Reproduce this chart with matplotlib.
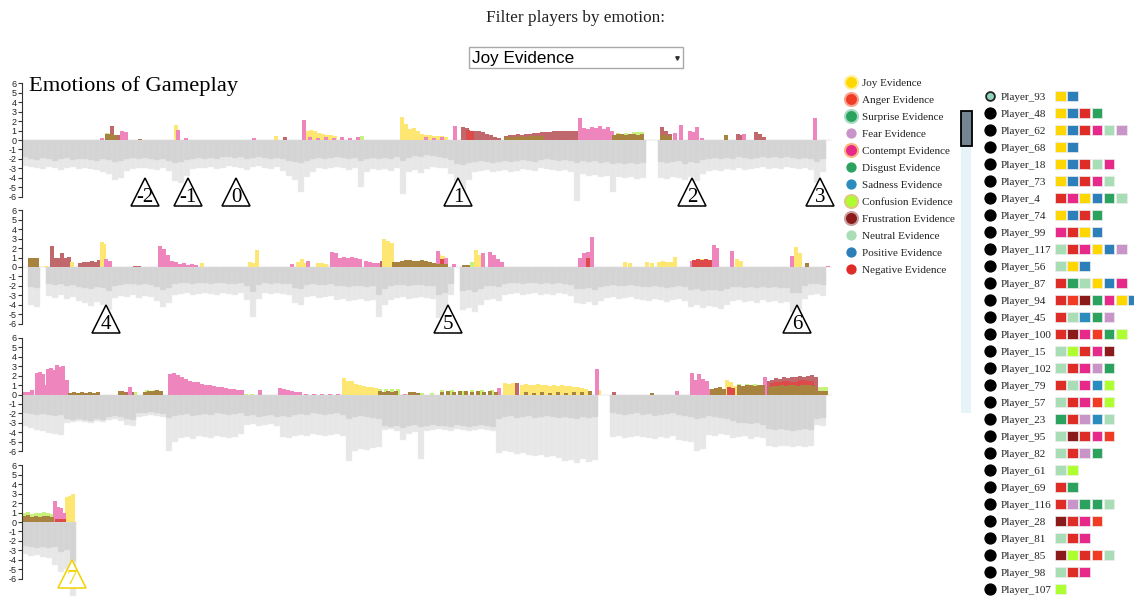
import matplotlib.pyplot as plt
from matplotlib.patches import Rectangle
import numpy as np

plt.rcParams['axes.unicode_minus'] = False

W, H = 1134, 598
SERIF = 'Liberation Serif'
SANS = 'Liberation Sans'

# emotion colours used by the legend and the player squares
EMO = {
    'joy': '#ffd700', 'anger': '#f03c24', 'surprise': '#2ca25f', 'fear': '#c994c7',
    'contempt': '#e7298a', 'disgust': '#2ca25f', 'sadness': '#2b8cbe',
    'confusion': '#adff2f', 'frustration': '#8b1a1a', 'neutral': '#a8ddb5',
    'pos': '#2c7fb8', 'neg': '#de2d26',
}
HALO = {'joy': '#fff0a0', 'anger': '#f7a390', 'surprise': '#a9dcc4',
        'contempt': '#fdb57c', 'confusion': '#e0c880', 'frustration': '#c9a0a0'}

# strip bar colours (blended evidence)
BAR = dict(lime='#c8f07c', maroon='#c0686c', yellow='#fde672', pink='#ee85bd',
           red='#dd4a4a', olive='#a8823f')

# ---------------- negative evidence, bins of 6 time units from t=22
BIN, T0 = 6, 22

r1_light = [-2.7, -2.9, -3.0, -3.1, -2.9, -3.0, -3.2, -3.0, -2.9, -3.1,
            -3.0, -3.1, -3.2, -3.4, -3.6, -4.2, -4.0, -3.3, -3.1, -3.0,
            -3.0, -3.1, -3.2, -3.0, -3.3, -4.3, -4.5, -3.8, -3.1, -3.0,
            -3.0, -2.9, -3.1, -3.0, -2.8, -2.9, -3.0, -3.2, -2.9, -2.8,
            -3.0, -3.1, -2.9, -3.3, -3.8, -4.2, -5.5, -3.9, -3.4, -3.0,
            -3.1, -3.0, -2.9, -3.0, -3.2, -3.0, -5.0, -3.4, -3.1, -3.2,
            -3.1, -3.3, -3.0, -5.7, -3.4, -3.2, -3.5, -3.1, -2.9, -3.0,
            -3.0, -3.6, -4.8, -5.7, -4.2, -3.4, -3.3, -3.2, -3.4, -3.3,
            -3.2, -3.4, -3.3, -3.1, -3.2, -3.3, -3.0, -3.1, -3.2, -3.3,
            -3.2, -3.4, -6.5, -3.6, -3.8, -3.7, -3.9, -3.8, -5.5, -3.9,
            -4.0, -3.9, -4.1, -4.0, 0, 0, -4.0,
            -4.1, -3.9, -4.0, -4.2, -3.9, -4.3, -3.6, -3.3, -3.2, -3.3,
            -3.1, -3.2, -3.0, -3.2, -3.1, -3.0, -2.9, -3.1, -3.0, -3.1,
            -2.9, -3.0, -3.1, -3.0, -3.2, -4.5, -3.4, 0]
r1_dark = [-1.8, -2.0, -2.1, -1.9, -2.0, -2.2, -2.0, -1.9, -2.1, -2.0,
           -2.0, -2.1, -2.2, -2.0, -2.1, -2.3, -2.2, -2.0, -1.9, -2.0,
           -1.9, -2.0, -2.1, -2.0, -2.2, -2.4, -2.3, -2.1, -2.0, -1.9,
           -2.0, -1.9, -2.0, -1.8, -1.8, -1.9, -1.8, -2.0, -1.9, -1.8,
           -1.9, -2.0, -1.9, -2.0, -2.2, -2.3, -2.4, -2.2, -2.0, -1.9,
           -2.0, -1.9, -1.8, -1.9, -2.0, -1.9, -2.2, -2.0, -1.9, -2.0,
           -1.9, -2.0, -1.8, -2.2, -1.9, -1.7, -1.8, -1.6, -1.7, -1.8,
           -1.9, -2.1, -2.5, -2.6, -2.4, -2.3, -2.2, -2.3, -2.4, -2.3,
           -2.2, -2.3, -2.2, -2.1, -2.2, -2.3, -2.1, -2.0, -2.1, -2.2,
           -2.1, -2.2, -2.4, -2.2, -2.3, -2.2, -2.4, -2.3, -2.5, -2.4,
           -2.5, -2.4, -2.5, -2.4, 0, 0, -2.3,
           -2.4, -2.3, -2.2, -2.5, -2.3, -2.4, -2.1, -2.0, -1.9, -2.0,
           -1.9, -2.0, -1.8, -1.9, -2.0, -1.9, -1.8, -1.9, -1.8, -1.9,
           -1.8, -1.9, -2.0, -1.9, -2.0, -2.3, -2.0, 0]

r2_light = [0, -4.0, -4.2, 0, -3.1, -3.3, -3.0, -3.4, -3.2, -3.6,
            -3.8, -4.1, -3.7, -4.0, -4.6, -3.3, -3.1, -3.2, -3.0, -3.3,
            -3.1, -3.2, -3.6, -4.2, -3.8, -3.0, -2.9, -2.8, -3.0, -2.9,
            -2.8, -2.9, -3.0, -2.8, -2.9, -3.0, -2.8, -3.5, -5.3, -3.4,
            -2.8, -2.9, -2.8, -2.9, -3.0, -3.8, -4.0, -3.2, -3.1, -3.3,
            -3.2, -3.1, -3.5, -3.4, -3.6, -3.5, -3.4, -3.6, -3.5, -5.3,
            -4.0, -3.5, -3.3, -3.2, -3.4, -3.3, -3.2, -3.3, -3.4, -5.4,
            -5.2, -3.0, 0, -4.5, -4.3, -4.8, -4.0, -3.5, -3.4, -3.6,
            -3.0, -2.9, -2.8, -3.0, -2.9, -2.8, -3.0, -2.9, -3.0, -2.8,
            -2.9, -3.1, -3.8, -3.9, -3.7, -4.0, -3.6, -3.3, -3.2, -3.4,
            -3.3, -3.2, -3.4, -3.5, -3.6, -3.4, -3.5, -3.7, -3.5, -3.4,
            -3.6, -4.2, -4.0, -4.3, -4.1, -4.2, -4.4, -4.0, -3.6, -3.5,
            -3.7, -3.6, -3.8, -3.5, -3.7, -3.6, -3.8, -3.7, -4.8, -4.6,
            -3.4, -3.0, -2.9, -3.1, 0]
r2_dark = [0, -2.1, -2.2, 0, -1.8, -1.9, -1.8, -2.0, -1.9, -2.1,
           -2.2, -2.3, -2.1, -2.2, -2.5, -2.0, -1.9, -1.8, -1.8, -1.9,
           -1.8, -1.9, -2.1, -2.4, -2.2, -1.8, -1.7, -1.7, -1.8, -1.7,
           -1.7, -1.8, -1.7, -1.7, -1.8, -1.8, -1.7, -2.0, -2.6, -1.9,
           -1.7, -1.8, -1.7, -1.8, -1.8, -2.2, -2.3, -1.9, -1.8, -1.9,
           -1.9, -1.8, -2.0, -2.0, -2.1, -2.0, -2.0, -2.1, -2.0, -3.0,
           -2.3, -2.0, -1.9, -1.9, -2.0, -1.9, -1.9, -2.0, -2.0, -3.0,
           -2.8, -1.8, 0, -2.5, -2.4, -2.6, -2.3, -2.0, -2.0, -2.1,
           -1.8, -1.7, -1.7, -1.8, -1.7, -1.7, -1.8, -1.7, -1.8, -1.7,
           -1.8, -1.9, -2.3, -2.3, -2.2, -2.4, -2.1, -2.0, -1.9, -2.0,
           -2.0, -1.9, -2.0, -2.1, -2.1, -2.0, -2.1, -2.2, -2.1, -2.0,
           -2.1, -2.4, -2.3, -2.5, -2.4, -2.4, -2.5, -2.3, -2.1, -2.1,
           -2.2, -2.1, -2.2, -2.1, -2.2, -2.1, -2.2, -2.2, -2.8, -2.7,
           -2.0, -1.8, -1.8, -1.9, 0]

r3_light = [-3.3, -3.5, -3.8, -3.9, -4.1, -4.2, -4.3, -3.0, -2.9, -2.8,
            -2.9, -3.0, -2.8, -2.9, -2.7, -2.6, -2.8, -3.2, -3.3, -2.4,
            -2.3, -2.2, -2.3, -2.4, -6.0, -5.0, -4.6, -4.5, -4.7, -4.4,
            -4.5, -4.6, -4.4, -4.5, -4.6, -4.5, -4.2, -3.2, -3.1, -3.3,
            -3.2, -3.1, -3.3, -4.5, -4.6, -4.4, -4.3, -4.4, -4.2, -4.3,
            -4.4, -4.3, -4.2, -4.4, -7.0, -6.0, -5.8, -5.9, -5.7, -5.6,
            -3.8, -3.7, -3.9, -4.8, -4.2, -4.0, -6.8, -3.9, -3.8, -3.7,
            -3.8, -3.9, -3.7, -3.8, -3.9, -3.8, -3.7, -3.8, -3.9, -6.2,
            -6.0, -6.1, -6.3, -6.2, -6.4, -6.5, -6.4, -6.6, -6.5, -6.7,
            -7.0, -6.9, -7.2, -6.8, -7.1, -6.9, 0, 0, -4.5, -4.4,
            -4.6, -4.5, -4.4, -4.5, -4.6, -4.7, -4.5, -4.6, -4.4, -4.8,
            -4.9, -5.0, -6.0, -5.8, -4.3, -4.4, -4.2, -4.3, -4.6, -4.5,
            -4.4, -4.7, -4.5, -4.6, -5.5, -5.6, -5.5, -5.4, -5.6, -5.5,
            -5.6, -5.4, -3.2, -3.3, 0]
r3_dark = [-2.0, -2.1, -2.2, -2.1, -2.2, -2.3, -2.2, -2.6, -2.7, -2.6,
           -2.7, -2.8, -2.6, -2.7, -2.4, -2.3, -2.4, -2.6, -2.7, -2.0,
           -2.0, -1.9, -2.0, -2.1, -2.5, -2.3, -2.2, -2.1, -2.3, -2.2,
           -2.1, -2.2, -2.0, -2.1, -2.2, -2.1, -2.0, -2.3, -2.2, -2.4,
           -2.3, -2.2, -2.4, -2.3, -2.4, -2.2, -2.1, -2.2, -2.0, -2.1,
           -2.2, -2.1, -2.0, -2.2, -2.6, -2.4, -2.3, -2.4, -2.5, -2.6,
           -3.3, -3.4, -3.3, -3.5, -3.3, -3.2, -3.4, -3.3, -3.2, -3.3,
           -3.3, -3.4, -3.2, -3.3, -3.4, -3.3, -3.2, -3.3, -3.4, -2.6,
           -2.4, -2.3, -2.5, -2.4, -2.3, -2.5, -2.4, -2.3, -2.4, -2.5,
           -2.4, -2.5, -2.6, -2.4, -2.5, -2.4, 0, 0, -2.0, -2.1,
           -2.2, -2.1, -2.0, -2.2, -2.1, -2.3, -2.2, -2.1, -2.0, -2.2,
           -2.3, -2.4, -2.6, -2.5, -2.3, -2.4, -2.5, -2.6, -2.8, -3.0,
           -3.0, -3.1, -3.0, -3.2, -3.7, -3.8, -3.7, -3.8, -3.9, -3.8,
           -3.7, -3.8, -2.6, -2.5, 0]

r4_light = [-3.4, -3.6, -3.5, -3.7, -3.8, -4.5, -5.3, -5.0, -7.8]
r4_dark = [-2.5, -2.6, -2.7, -2.6, -2.8, -2.6, -3.2, -3.0, -4.1]

# ---------------- positive evidence, (time, value)
r1_lime = [(105, .7), (360, .4), (616, .7), (624, .7), (632, .8), (636, .8), (640, .8)]
r1_maroon = [(110, 1.5), (116, .5), (283, .3), (461, 1.4), (465, 1.3), (469, .9), (473, 1.0),
             (477, 1.0), (481, .8), (485, .6), (489, .5), (493, .3), (497, .2), (504, .4),
             (508, .5), (512, .5), (516, .6), (520, .5), (524, .6), (528, .6), (532, .7),
             (536, .7), (540, .8), (544, .8), (548, .8), (552, .9), (556, .9), (560, .9),
             (564, 1.0), (568, .9), (572, 1.0), (576, .9), (660, 1.4), (664, 1.0), (668, .6),
             (736, .6), (740, .5), (754, .8), (758, .6), (762, .3)]
r1_yellow = [(174, 1.6), (274, .4), (305, 1.0), (309, 1.1), (313, .9), (317, .7), (321, .6),
             (325, .5), (329, .5), (333, .4), (400, 2.4), (404, 1.7), (408, 1.2), (412, 1.3),
             (416, 1.0), (420, .6), (424, .5), (428, .5), (432, .4), (436, .4), (440, .4),
             (444, .3)]
r1_pink = [(100, .2), (120, .9), (124, .8), (176, 1.1), (184, .2), (252, .2), (302, 2.1),
           (308, .3), (316, .2), (324, .3), (332, .2), (340, .3), (348, .2), (356, .3),
           (424, .3), (432, .2), (440, .3), (453, 1.5), (578, 2.3), (582, 1.3), (586, 1.2),
           (590, 1.4), (594, 1.3), (598, 1.5), (602, 1.2), (606, 1.4), (610, 1.0), (673, .7),
           (679, 1.6), (688, .9), (692, .8), (695, 1.4), (700, .2), (742, .6), (813, 2.3)]
r1_red = [(466, 1.1), (470, .9)]
r1_olive = [(105, .6), (109, .6), (113, .5), (138, .1), (504, .3), (508, .3), (512, .3),
            (516, .3), (520, .4), (524, .3), (528, .4), (532, .4), (536, .4), (540, .4),
            (612, .5), (616, .6), (620, .6), (624, .5), (628, .6), (632, .6), (636, .5),
            (640, .6), (660, .5), (664, .5), (668, .4), (724, .5)]

r2_lime = [(470, .5)]
r2_maroon = [(50, 2.2), (54, .9), (57, 1.0), (60, 1.5), (64, .9), (67, 1.1), (78, .4),
             (82, .5), (86, .5), (90, .6), (94, .5), (97, .7), (133, .1), (137, .1), (380, .6)]
r2_yellow = [(44, .1), (70, .5), (100, 2.6), (102, 2.4), (200, .4), (248, .5), (252, .4),
             (255, 1.8), (296, .5), (300, .8), (304, .4), (316, .4), (320, .4), (324, .3),
             (382, 3.0), (386, 2.8), (390, 2.5), (437, 1.4), (441, 1.2), (474, 1.8),
             (477, 1.3), (623, .5), (628, .4), (645, .5), (650, .4), (657, .5), (661, .6),
             (665, .5), (669, .5), (673, 1.1), (700, .8), (704, .7), (708, .6), (735, .8),
             (739, .6), (794, 2.1), (798, 1.5)]
r2_pink = [(104, .8), (108, .6), (158, 2.2), (162, 1.9), (166, 1.3), (170, .6), (174, .5),
           (178, .3), (182, .4), (186, .2), (190, .3), (194, .2), (290, .3), (306, .6),
           (330, 1.6), (334, 1.5), (338, 1.0), (342, 1.1), (346, 1.0), (350, 1.1), (354, .9),
           (358, .8), (364, .6), (368, .5), (372, .4), (376, .4), (436, 1.7), (444, 1.0),
           (452, .3), (481, 1.5), (488, 1.6), (492, 1.3), (496, .8), (500, .5), (578, 1.0),
           (582, 1.5), (586, 1.6), (590, 3.2), (690, .6), (712, 2.3), (715, 2.0), (730, 1.7),
           (790, 1.2), (826, .1)]
r2_red = [(440, .8), (586, 1.0), (692, .7), (696, .8), (700, .7), (704, .8), (708, .7)]
r2_olive = [(28, 1.0), (32, .9), (35, 1.0), (392, .5), (396, .5), (400, .6), (404, .7),
            (408, .7), (412, .6), (416, .6), (420, .7), (424, .6), (428, .5), (432, .4),
            (436, .3), (440, .3), (444, .3), (462, .2), (466, .2), (805, .4)]

r3_lime = [(133, .3), (145, .5), (153, .5), (157, .4), (244, .1), (250, .1), (378, .6),
           (384, .6), (390, .6), (396, .6), (405, .1), (420, .2), (430, .2), (440, .5),
           (450, .5), (460, .4), (470, .5), (480, .5), (490, .5), (737, 1.1), (745, 1.1),
           (753, 1.1), (761, 1.0), (816, .8), (820, .8), (824, .8)]
r3_maroon = [(120, .4), (124, .3), (130, .3), (515, 1.2), (612, .3), (766, 1.4), (770, 1.5),
             (774, 1.7), (778, 1.6), (782, 1.8), (786, 1.7), (790, 1.9), (794, 1.8),
             (798, 2.0), (802, 1.9), (806, 2.0), (810, 2.1), (814, 1.9)]
r3_yellow = [(342, 1.7), (346, 1.4), (350, 1.4), (354, 1.1), (358, 1.0), (362, .9), (366, .8),
             (370, .8), (374, .7), (503, 1.2), (507, 1.1), (511, 1.2), (520, 1.0), (524, 1.1),
             (528, 1.0), (532, 1.0), (536, 1.1), (540, 1.0), (544, 1.0), (548, .9), (552, 1.0),
             (556, .9), (560, 1.0), (564, .9), (568, .9), (572, .8), (576, .8), (580, .7),
             (584, .6), (597, .5), (725, 1.5), (729, 1.3), (733, .9)]
r3_pink = [(22, .3), (26, .3), (30, .5), (35, 2.3), (38, 2.4), (41, 2.2), (43, 1.0), (46, 2.7),
           (49, 2.8), (52, 2.6), (55, 3.1), (58, 2.9), (61, 3.0), (65, 1.5), (128, .8),
           (168, 2.2), (172, 2.3), (176, 2.1), (180, 1.8), (184, 1.6), (188, 1.4), (192, 1.3),
           (196, 1.3), (200, 1.1), (204, 1.0), (208, 1.0), (212, .9), (216, .8), (220, .8),
           (224, .7), (228, .6), (232, .6), (236, .5), (240, .5), (258, .5), (278, .7),
           (282, .6), (286, .5), (290, .4), (294, .3), (298, .3), (304, .1), (312, .1),
           (320, .1), (328, .1), (336, .1), (403, .1), (497, .7), (595, 2.7), (675, .4),
           (690, 2.3), (694, 1.5), (697, 2.2), (701, 1.6), (705, 1.4), (708, .6), (763, 1.8)]
r3_red = [(727, .8), (731, .7), (770, 1.2), (774, 1.3), (778, 1.3), (782, 1.4), (786, 1.4),
          (790, 1.3), (794, 1.3), (798, 1.5), (802, 1.5), (806, 1.4), (810, 1.4)]
r3_olive = [(68, .2), (72, .3), (76, .2), (80, .3), (84, .2), (88, .3), (92, .2), (96, .3),
            (118, .4), (122, .3), (143, .3), (147, .4), (151, .4), (155, .5), (159, .4),
            (378, .4), (382, .3), (386, .4), (390, .3), (394, .4), (408, .3), (412, .3),
            (416, .2), (440, .3), (446, .4), (452, .3), (458, .4), (464, .4), (470, .3),
            (476, .4), (482, .3), (488, .4), (494, .3), (524, .3), (532, .2), (540, .3),
            (548, .2), (556, .3), (564, .2), (572, .3), (580, .3), (588, .4), (650, .2),
            (710, .6), (714, .7), (718, .8), (722, .6), (737, 1.0), (741, .9), (745, 1.0),
            (749, 1.0), (753, .9), (757, 1.0), (761, 1.0), (768, .8), (772, .9), (776, .9),
            (780, 1.0), (784, .9), (788, 1.0), (792, 1.0), (796, .9), (800, 1.0), (804, 1.0),
            (808, 1.0), (812, .9), (816, .4), (820, .4), (824, .4)]

r4_lime = [(22, 1.0), (26, 1.1), (30, .8), (34, 1.0), (38, .9), (42, 1.1), (46, 1.0), (50, .8)]
r4_maroon = []
r4_yellow = [(65, 2.6), (68, 2.8), (71, 3.0)]
r4_pink = [(53, 2.2), (56, 1.6), (59, 1.5), (62, 1.0)]
r4_red = [(55, .3), (59, .3), (62, .3)]
r4_olive = [(22, .6), (26, .7), (30, .5), (34, .6), (38, .5), (42, .6), (46, .6), (50, .5)]

# key moments
event_labels = ['-2', '-1', '0', '1', '2', '3', '4', '5', '6', '7']
event_times = [145, 188, 236, 458, 692, 820, 106, 448, 797, 72]
event_rows = [0, 0, 0, 0, 0, 0, 1, 1, 1, 3]

legend_keys = ['joy', 'anger', 'surprise', 'fear', 'contempt', 'disgust', 'sadness',
               'confusion', 'frustration', 'neutral', 'pos', 'neg']
legend_names = ['Joy Evidence', 'Anger Evidence', 'Surprise Evidence', 'Fear Evidence',
                'Contempt Evidence', 'Disgust Evidence', 'Sadness Evidence',
                'Confusion Evidence', 'Frustration Evidence', 'Neutral Evidence',
                'Positive Evidence', 'Negative Evidence']

players = ['Player_93', 'Player_48', 'Player_62', 'Player_68', 'Player_18', 'Player_73',
           'Player_4', 'Player_74', 'Player_99', 'Player_117', 'Player_56', 'Player_87',
           'Player_94', 'Player_45', 'Player_100', 'Player_15', 'Player_102', 'Player_79',
           'Player_57', 'Player_23', 'Player_95', 'Player_82', 'Player_61', 'Player_69',
           'Player_116', 'Player_28', 'Player_81', 'Player_85', 'Player_98', 'Player_107']
player_emotions = [
    ['joy', 'pos'], ['joy', 'pos', 'neg', 'disgust'],
    ['joy', 'pos', 'neg', 'contempt', 'neutral', 'fear'], ['joy', 'pos'],
    ['joy', 'pos', 'neg', 'neutral', 'contempt'], ['joy', 'pos', 'neg', 'contempt', 'neutral'],
    ['neg', 'contempt', 'joy', 'pos', 'disgust', 'neutral'], ['joy', 'pos', 'neg', 'disgust'],
    ['contempt', 'neg', 'joy', 'pos'], ['neutral', 'neg', 'contempt', 'joy', 'pos', 'fear'],
    ['neutral', 'joy', 'pos'], ['neg', 'disgust', 'neutral', 'joy', 'pos', 'contempt'],
    ['neg', 'anger', 'frustration', 'disgust', 'contempt', 'joy', 'pos'],
    ['neg', 'neutral', 'sadness', 'disgust', 'fear'],
    ['neg', 'frustration', 'contempt', 'anger', 'disgust', 'confusion'],
    ['neutral', 'confusion', 'neg', 'contempt', 'frustration'],
    ['neutral', 'neg', 'contempt', 'fear', 'disgust'],
    ['neg', 'neutral', 'contempt', 'sadness', 'confusion'],
    ['neutral', 'neg', 'contempt', 'anger', 'confusion'],
    ['disgust', 'neg', 'fear', 'sadness', 'neutral'],
    ['neutral', 'frustration', 'neg', 'contempt', 'anger'],
    ['neutral', 'neg', 'fear', 'disgust'], ['neutral', 'confusion'], ['neg', 'disgust'],
    ['neg', 'fear', 'disgust', 'disgust', 'neutral'], ['frustration', 'neg', 'contempt', 'anger'],
    ['neutral', 'neg', 'contempt'], ['frustration', 'confusion', 'neg', 'anger', 'neutral'],
    ['neutral', 'neg', 'contempt'], ['confusion'],
]

# ---------------------------------------------------------------- figure
fig = plt.figure(figsize=(W / 100, H / 100), dpi=100)
ui = fig.add_axes([0, 0, 1, 1])
ui.set_xlim(0, W)
ui.set_ylim(H, 0)
ui.axis('off')

ui.text(575, 18, 'Filter players by emotion:', family=SERIF, fontsize=12.4,
        ha='center', va='center', color='#222')
ui.add_patch(Rectangle((469, 47), 214, 21, facecolor='white', edgecolor='#a9a9a9', lw=1))
ui.text(472, 58, 'Joy Evidence', family=SANS, fontsize=12.3, va='center', color='black')
ui.plot([677], [58], marker='v', ms=2.5, color='#333')
ui.text(29, 86, 'Emotions of Gameplay', family=SERIF, fontsize=16.2, va='center', color='black')

# legend
for i, (key, name) in enumerate(zip(legend_keys, legend_names)):
    y = 82 + 17 * i
    if key in HALO:
        ui.scatter([851], [y], s=118, color=HALO[key], lw=0, zorder=3)
        ui.scatter([851], [y], s=62, color=EMO[key], lw=0, zorder=4)
    else:
        ui.scatter([851], [y], s=55, color=EMO[key], lw=0, zorder=4)
    ui.text(862, y + 3.7, name, family=SERIF, fontsize=8, va='baseline', color='#222')

# scroll bar
ui.add_patch(Rectangle((961, 110), 10, 303, facecolor='#e6f4fa', lw=0))
ui.add_patch(Rectangle((960.5, 111), 11, 35, facecolor='#768592', edgecolor='black', lw=1.3))

# player list
for i, (name, emos) in enumerate(zip(players, player_emotions)):
    y = 96 + 17 * i
    if i == 0:
        ui.scatter([990], [y], s=40, color='#8fd3c0', edgecolor='#222', lw=1.3, zorder=4)
    else:
        ui.scatter([990], [y], s=78, color='black', lw=0, zorder=4)
    ui.text(1001, y + 3.7, name, family=SERIF, fontsize=8, va='baseline', color='#222')
    for k, e in enumerate(emos):
        ui.add_patch(Rectangle((1055 + 12.2 * k, y - 5.3), 10.6, 10.6,
                               facecolor=EMO[e], edgecolor='#eeeeee', lw=0.5))

# emotion strips
ROW_ZERO = [140, 267, 394.5, 522]
U = 9.45
YTOP, YBOT = 6.6, -8.4
rows = [
    (r1_light, r1_dark, [r1_lime, r1_maroon, r1_yellow, r1_pink, r1_red, r1_olive]),
    (r2_light, r2_dark, [r2_lime, r2_maroon, r2_yellow, r2_pink, r2_red, r2_olive]),
    (r3_light, r3_dark, [r3_lime, r3_maroon, r3_yellow, r3_pink, r3_red, r3_olive]),
    (r4_light, r4_dark, [r4_lime, r4_maroon, r4_yellow, r4_pink, r4_red, r4_olive]),
]
pos_colors = [BAR['lime'], BAR['maroon'], BAR['yellow'], BAR['pink'], BAR['red'], BAR['olive']]

axes = []
for zero, (light, dark, pos) in zip(ROW_ZERO, rows):
    top = zero - YTOP * U
    bot = zero - YBOT * U
    ax = fig.add_axes([22 / W, 1 - bot / H, 810 / W, (bot - top) / H])
    ax.set_facecolor('none')
    ax.set_xlim(22, 832)
    ax.set_ylim(YBOT, YTOP)
    t = T0 + BIN * np.arange(len(light))
    ax.bar(t, light, BIN, align='edge', color='#e7e7e7', edgecolor='#efefef', lw=0.3)
    ax.bar(t, dark, BIN, align='edge', color='#d4d4d4', edgecolor='#dcdcdc', lw=0.3)
    for series, c in zip(pos, pos_colors):
        if series:
            ts, vs = zip(*series)
            ax.bar(ts, vs, 3.5, align='edge', color=c, lw=0)
    for s in ['top', 'right', 'bottom']:
        ax.spines[s].set_visible(False)
    ax.spines['left'].set_bounds(-6, 6)
    ax.spines['left'].set_linewidth(0.8)
    ax.spines['left'].set_color('#333')
    ax.set_yticks(range(-6, 7))
    ax.tick_params(axis='y', length=3, width=0.8, pad=1, labelsize=6.5, color='#333',
                   labelcolor='#222')
    for lab in ax.get_yticklabels():
        lab.set_family(SANS)
    ax.set_xticks([])
    axes.append(ax)

# key-moment triangles
for lab, t, r in zip(event_labels, event_times, event_rows):
    c = '#f2d200' if lab == '7' else 'black'
    yc = -51.5 / U
    axes[r].plot([t], [yc], marker='^', ms=20, mfc='white', mec=c, mew=1.1,
                 clip_on=False, zorder=6)
    axes[r].text(t, yc - 1.15, lab, family=SERIF, fontsize=15, ha='center',
                 va='baseline', color=c, zorder=7, clip_on=False)

fig.savefig('out.png', dpi=100)
